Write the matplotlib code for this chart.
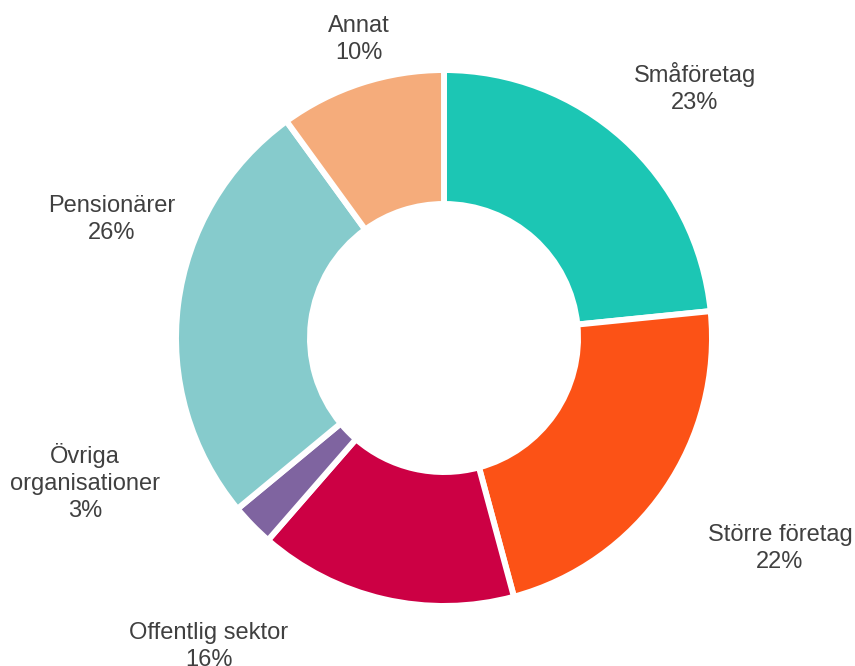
import matplotlib
matplotlib.use("Agg")
import matplotlib.pyplot as plt

# Data (shares in percent)
categories = ["Småföretag", "Större företag", "Offentlig sektor",
              "Övriga\norganisationer", "Pensionärer", "Annat"]
shares = [23.4, 22.4, 15.6, 2.6, 26.0, 10.0]
colors = ["#1cc6b4", "#fc5216", "#cc0044", "#7f64a0", "#86cbcc", "#f5ac7b"]

# label anchor (x centre, baseline of first line) in pixels from top-left
label_pos = [(695, 82), (780, 541), (209, 639), (85, 463), (112, 212), (359, 32)]

W, H = 855, 666
cx, cy = 444, 338
line_step = 27

fig = plt.figure(figsize=(W / 100, H / 100), dpi=100)
ax = fig.add_axes([0, 0, 1, 1])

ax.pie(
    shares,
    colors=colors,
    startangle=90,
    counterclock=False,
    radius=268,
    wedgeprops=dict(width=134, edgecolor="white", linewidth=4.3),
)
ax.set_xlim(-cx, W - cx)
ax.set_ylim(-(H - cy), cy)
ax.set_aspect("equal")
ax.axis("off")

for name, val, (px, py) in zip(categories, shares, label_pos):
    lines = name.split("\n") + [f"{round(val)}%"]
    for i, txt in enumerate(lines):
        ax.text(px - cx, cy - (py + i * line_step), txt,
                ha="center", va="baseline", fontsize=17,
                family="Liberation Sans", color="#404040")

fig.savefig("out.png", dpi=100)
